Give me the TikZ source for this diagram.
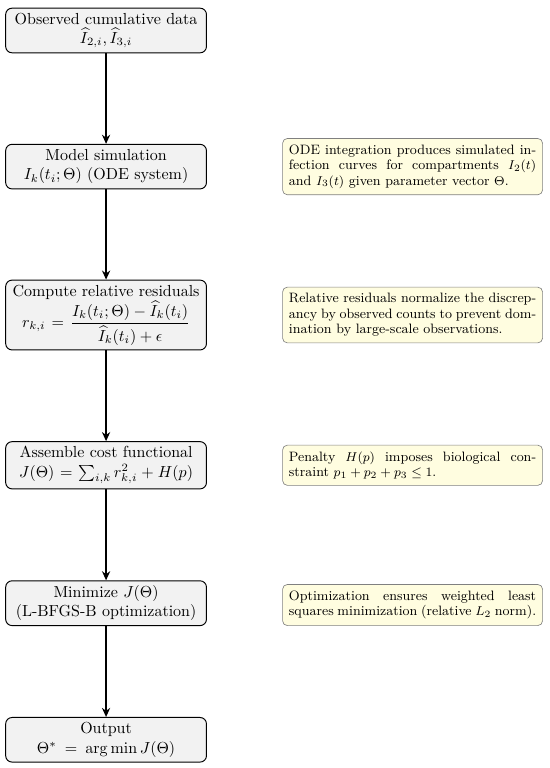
\documentclass[tikz,border=0pt]{standalone}
\usepackage{amsmath}
\usetikzlibrary{positioning,arrows.meta}

\tikzset{
  stage/.style={draw, rounded corners=4pt, fill=gray!10, align=center, text width=4.2cm, inner sep=3pt, minimum height=0.98cm, semithick},
  remark/.style={draw=gray, rounded corners=3pt, fill=yellow!12, align=justify, text width=5.43cm, inner sep=4pt, font=\fontsize{8.5}{9.6}\selectfont, anchor=west},
  flow/.style={-{Stealth[length=2mm,width=1.8mm]}, thick}
}

\begin{document}
\begin{tikzpicture}
\useasboundingbox (0,0) rectangle (12.08,-16.87);

\node (data) [stage] at (2.33,-0.67) {Observed cumulative data\\ $\widehat{I}_{2,i}, \widehat{I}_{3,i}$};
\node (sim) [stage] at (2.33,-3.66) {Model simulation\\ $I_k(t_i;\Theta)$ (ODE system)};
\node (resid) [stage] at (2.33,-6.92) {Compute relative residuals\\ $r_{k,i} = \dfrac{I_k(t_i;\Theta) - \widehat{I}_k(t_i)}{\widehat{I}_k(t_i) + \epsilon}$};
\node (cost) [stage] at (2.33,-10.22) {Assemble cost functional\\ $J(\Theta) = \sum_{i,k} r_{k,i}^2 + H(p)$};
\node (opt) [stage] at (2.33,-13.25) {Minimize $J(\Theta)$\\ (L-BFGS-B optimization)};
\node (out) [stage] at (2.33,-16.25) {Output\\ $\Theta^* = \arg\min J(\Theta)$};

\node (simnote) [remark] at (6.20,-3.66) {ODE integration produces simulated infection curves for compartments $I_2(t)$ and $I_3(t)$ given parameter vector $\Theta$.};
\node (residnote) [remark] at (6.20,-6.92) {Relative residuals normalize the discrepancy by observed counts to prevent domination by large-scale observations.};
\node (costnote) [remark] at (6.20,-10.22) {Penalty $H(p)$ imposes biological constraint $p_1 + p_2 + p_3 \le 1$.};
\node (optnote) [remark] at (6.20,-13.29) {Optimization ensures weighted least squares minimization (relative $L_2$ norm).};

\draw [flow] (data) -- (sim);
\draw [flow] (sim) -- (resid);
\draw [flow] (resid) -- (cost);
\draw [flow] (cost) -- (opt);
\draw [flow] (opt) -- (out);
\end{tikzpicture}
\end{document}
